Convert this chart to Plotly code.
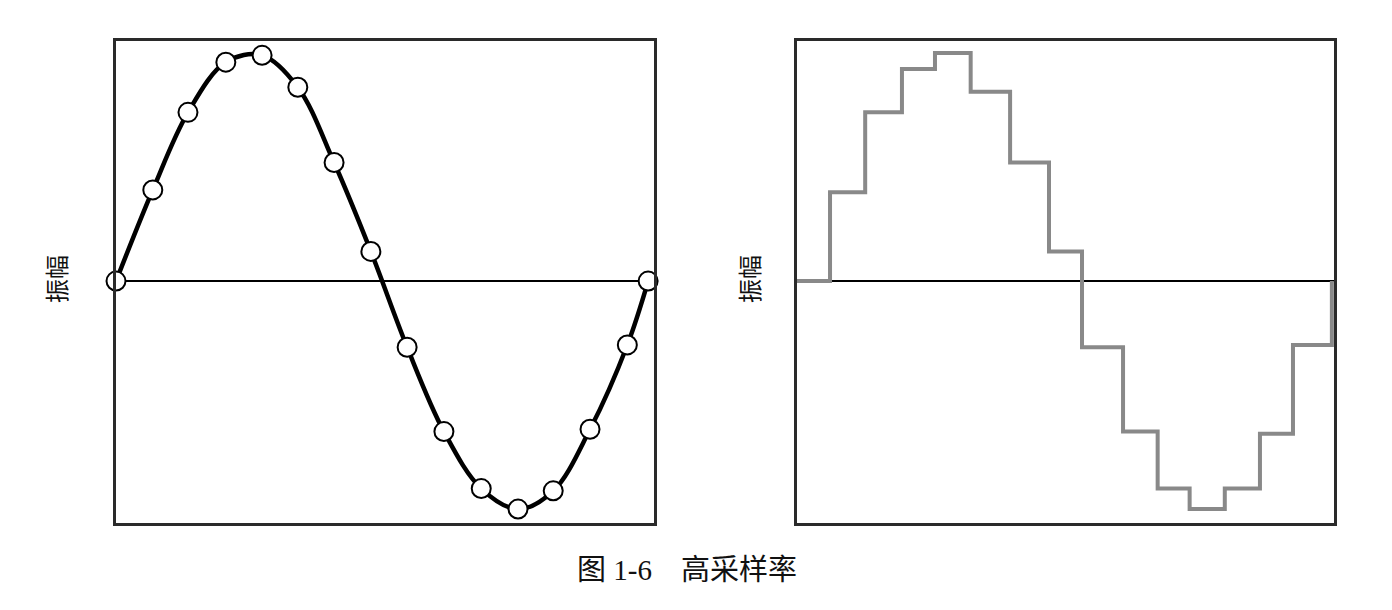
import plotly.graph_objects as go
from plotly.subplots import make_subplots

# Left panel: sampled points on the sine wave (time as fraction of period, amplitude)
sample_t = [0.0, 0.069, 0.135, 0.206, 0.274, 0.341, 0.409, 0.478, 0.546,
            0.615, 0.685, 0.754, 0.820, 0.889, 0.959, 0.998]
sample_amp = [0.0, 0.40, 0.74, 0.96, 0.99, 0.85, 0.52, 0.13, -0.29,
              -0.66, -0.91, -1.00, -0.92, -0.65, -0.28, 0.0]

# Right panel: reconstructed staircase (step start times and held values)
step_t = [0.0, 0.062, 0.128, 0.197, 0.259, 0.326, 0.400, 0.473, 0.535,
          0.612, 0.677, 0.737, 0.803, 0.869, 0.931, 1.004]
step_amp = [0.0, 0.39, 0.74, 0.93, 1.00, 0.83, 0.52, 0.13, -0.29,
            -0.66, -0.91, -1.00, -0.91, -0.67, -0.28, 0.0]

y_label = "振幅"
caption = "图 1-6\u3000高采样率"

fig = make_subplots(rows=1, cols=2)

fig.add_trace(go.Scatter(
    x=sample_t, y=sample_amp, mode="lines+markers",
    line=dict(color="black", width=4.5, shape="spline", smoothing=1.0),
    marker=dict(size=19, color="white", line=dict(color="black", width=2)),
    cliponaxis=False, showlegend=False, hoverinfo="skip"), row=1, col=1)

fig.add_trace(go.Scatter(
    x=step_t, y=step_amp, mode="lines",
    line=dict(color="#898989", width=4, shape="hv"),
    cliponaxis=False, showlegend=False, hoverinfo="skip"), row=1, col=2)

ax_common = dict(showgrid=False, showticklabels=False, ticks="",
                 showline=True, mirror=True, linecolor="#2a2a2a", linewidth=3,
                 zeroline=False)
y_common = dict(ax_common, zeroline=True, zerolinecolor="black", zerolinewidth=2,
                range=[-1.061, 1.053])

fig.update_layout(
    width=1392, height=610,
    margin=dict(l=0, r=0, t=0, b=0),
    paper_bgcolor="white", plot_bgcolor="white",
    font=dict(family="Liberation Serif, Noto Sans CJK SC", color="black"),
    xaxis=dict(ax_common, domain=[116/1392, 654/1392], range=[0, 1.009]),
    xaxis2=dict(ax_common, domain=[797/1392, 1334/1392], range=[0, 1.008]),
    yaxis=dict(y_common, domain=[(610-523)/610, (610-41)/610]),
    yaxis2=dict(y_common, domain=[(610-523)/610, (610-41)/610]),
)

for xp in (55/1392, 748/1392):
    fig.add_annotation(x=xp, y=(610-279)/610, xref="paper", yref="paper",
                       xanchor="center", yanchor="middle",
                       text=y_label, textangle=-90, showarrow=False,
                       font=dict(size=24, family="Noto Sans CJK SC", color="#111"))

fig.add_annotation(x=687/1392, y=(610-570)/610, xref="paper", yref="paper",
                   xanchor="center", yanchor="middle",
                   text=caption, showarrow=False,
                   font=dict(size=29, family="Liberation Serif, Noto Sans CJK SC", color="#111"))

fig.write_html("out.html")
